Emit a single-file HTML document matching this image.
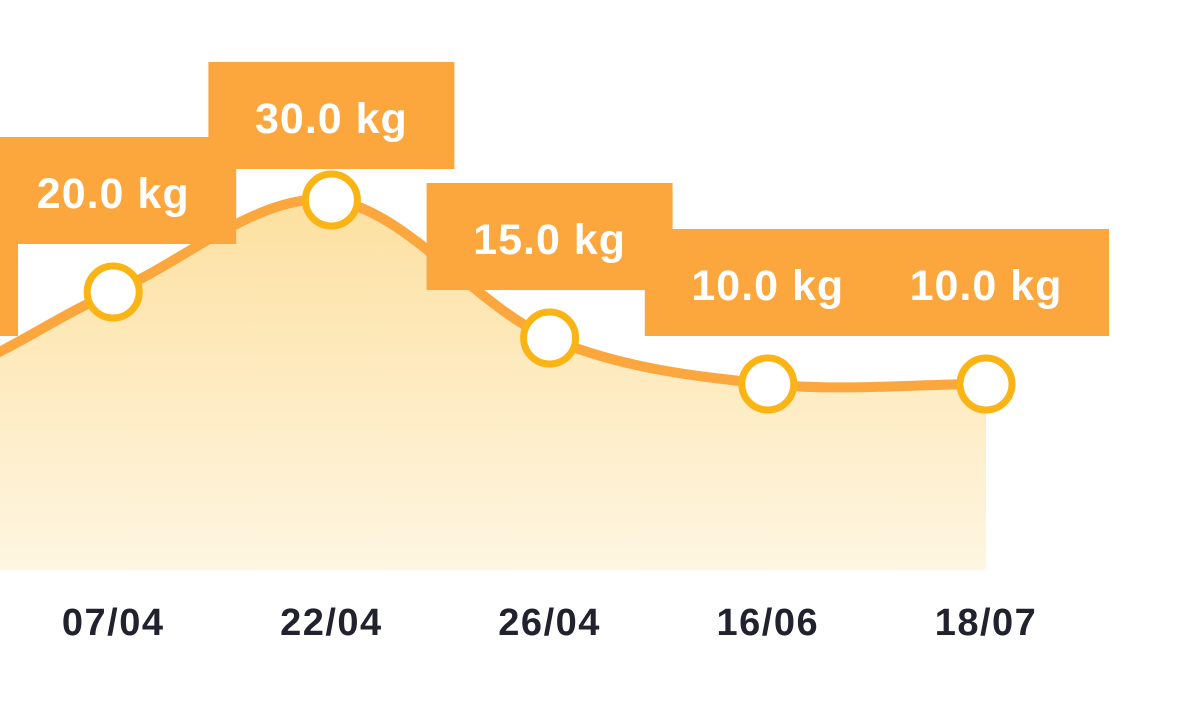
<!DOCTYPE html>
<html><head><meta charset="utf-8">
<style>
html,body{margin:0;padding:0;background:#fff;width:1179px;height:720px;overflow:hidden}
svg{display:block}
text{font-family:"Liberation Sans","DejaVu Sans",sans-serif;font-weight:bold}
</style></head>
<body>
<svg id="chart" width="1179" height="720" viewBox="0 0 1179 720">
<defs>
<linearGradient id="areaGrad" x1="0" y1="0" x2="0" y2="1">
<stop offset="0" stop-color="#fde0a0"/>
<stop offset="1" stop-color="#fef6e2"/>
</linearGradient>
</defs>
</svg>
<script>
const categories = ["01/04","07/04","22/04","26/04","16/06","18/07"];
const values = [10, 20, 30, 15, 10, 10];
const labels = ["10.0 kg","20.0 kg","30.0 kg","15.0 kg","10.0 kg","10.0 kg"];

const NS = "http://www.w3.org/2000/svg";
const svg = document.getElementById("chart");
function xScale(i){ return -105 + i * 218.2; }
function yScale(v){ return 384 - (v - 10) * 9.2; }
const baseY = 570;
function mk(tag, attrs){ const e=document.createElementNS(NS,tag); for(const k in attrs) e.setAttribute(k,attrs[k]); svg.appendChild(e); return e; }

const pts = values.map((v,i)=>[xScale(i), yScale(v)]);
function curvePath(p){
  let d = "M"+p[0][0]+","+p[0][1];
  const n=p.length;
  for(let i=0;i<n-1;i++){
    const p0=p[i-1], p1=p[i], p2=p[i+1], p3=p[i+2];
    const t=1/6;
    const c1 = p0 ? [p1[0]+(p2[0]-p0[0])*t, p1[1]+(p2[1]-p0[1])*t] : [p1[0]+(p2[0]-p1[0])/3, p1[1]];
    const c2 = p3 ? [p2[0]-(p3[0]-p1[0])*t, p2[1]-(p3[1]-p1[1])*t] : [p2[0]-(p2[0]-p1[0])/3, p2[1]];
    d+=" C"+c1[0]+","+c1[1]+" "+c2[0]+","+c2[1]+" "+p2[0]+","+p2[1];
  }
  return d;
}
const lineD = curvePath(pts);
const area = mk("path",{d: lineD+" L"+pts[pts.length-1][0]+","+baseY+" L"+pts[0][0]+","+baseY+" Z", fill:"url(#areaGrad)"});


const line = mk("path",{d: lineD, fill:"none", stroke:"#fca63e", "stroke-width":10, "stroke-linejoin":"round"});



const maxV = Math.max(...values);
values.forEach((v,i)=>{
  const x=pts[i][0], y=pts[i][1];
  const top = y - 155 + (v===maxV ? 17 : 0);
  const r = mk("rect",{x:x-123, y:top, width:246, height:107, fill:"#fca63e"});
  
  
  const t = mk("text",{x:x, y:top+71, "text-anchor":"middle", fill:"#fff", "font-size":43, "letter-spacing":"1"});
  t.textContent = labels[i];
  
  
});
values.forEach((v,i)=>{
  const c = mk("circle",{cx:pts[i][0], cy:pts[i][1], r:26, fill:"#fff", stroke:"#fbb416", "stroke-width":7});
  
  
  const t = mk("text",{x:pts[i][0], y:635, "text-anchor":"middle", fill:"#22222f", "font-size":38, "letter-spacing":"1.5"});
  t.textContent = categories[i];
  
  
});
</script>
</body></html>
